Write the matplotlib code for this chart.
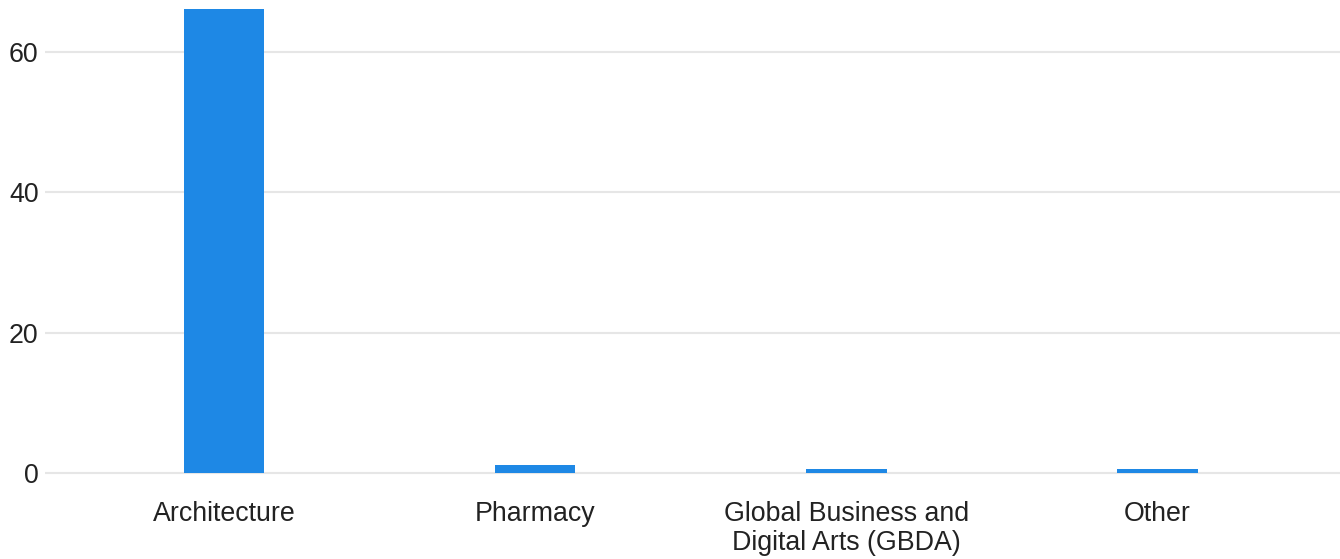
import matplotlib.pyplot as plt

plt.rcParams['font.family'] = ['Liberation Sans', 'DejaVu Sans']

programs = ["Architecture", "Pharmacy", "Global Business and\nDigital Arts (GBDA)", "Other"]
counts = [66.1, 1.1, 0.55, 0.55]
y_ticks = [0, 20, 40, 60]

bar_color = "#1E88E5"
grid_color = "#E6E6E6"
text_color = "#222222"

fig = plt.figure(figsize=(13.4, 5.59), dpi=100)
# axes spans pixel rows 0..475 so the zero gridline is not clipped
ax = fig.add_axes([45 / 1340, 84 / 559, 1295 / 1340, 475 / 559])

x = range(len(programs))
ax.bar(x, counts, width=0.26, color=bar_color, zorder=3)

ax.set_xlim(-0.5756, 3.588)
ax.set_ylim(-0.3, 67.4)
ax.set_yticks(y_ticks)
ax.set_xticks(list(x))
ax.set_xticklabels(programs, fontsize=19.3, color=text_color, linespacing=1.15)
ax.tick_params(axis='y', labelsize=19.3, labelcolor=text_color, length=0, pad=4.5)
ax.tick_params(axis='x', length=0, pad=19)

ax.grid(axis='y', color=grid_color, linewidth=1.5, zorder=0)
for spine in ax.spines.values():
    spine.set_visible(False)

fig.savefig("out.png", dpi=100)
